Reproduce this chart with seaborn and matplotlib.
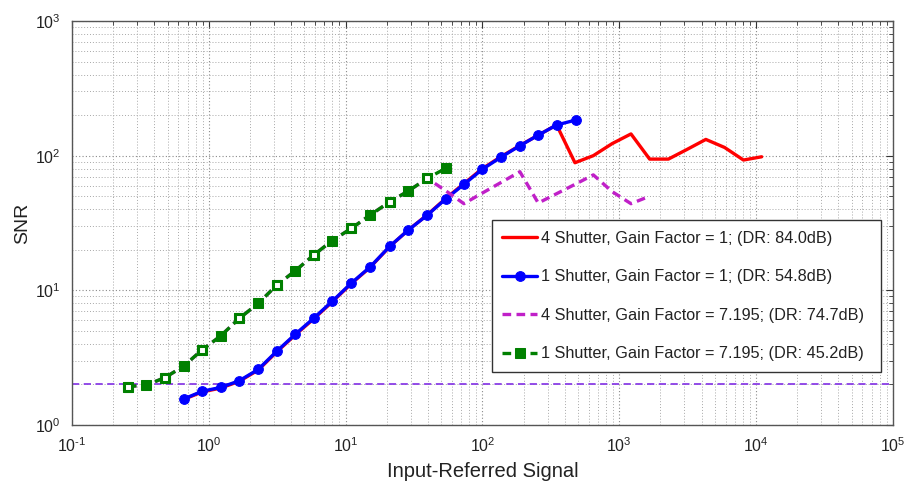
import numpy as np
import matplotlib
matplotlib.use("Agg")
import matplotlib.pyplot as plt
import seaborn as sns
from matplotlib.ticker import LogLocator, NullFormatter, FixedLocator, FuncFormatter

# ---------------- data ----------------
blue_x = [0.656, 0.893, 1.22, 1.67, 2.30, 3.13, 4.30, 5.86, 7.98, 11.0, 15.1,
          21.1, 28.7, 39.6, 53.8, 73.3, 99.7, 136, 188, 256, 349, 483]
blue_snr = [1.56, 1.78, 1.90, 2.13, 2.59, 3.52, 4.73, 6.22, 8.28, 11.3, 14.9,
            21.3, 28.0, 36.2, 47.6, 61.2, 79.1, 97.1, 118.5, 142, 169, 184]

red_x = [0.656, 0.893, 1.22, 1.67, 2.30, 3.13, 4.30, 5.86, 7.98, 11.0, 15.1,
         21.1, 28.7, 39.6, 53.8, 73.3, 99.7, 136, 188, 256, 349,
         475, 647, 890, 1220, 1670, 2290, 3120, 4300, 5900, 8100, 11000]
red_snr = [1.55, 1.76, 1.88, 2.11, 2.56, 3.48, 4.68, 6.15, 8.2, 11.2, 14.8,
           21.2, 28.0, 36.4, 48.0, 62.0, 80.0, 98.0, 119, 142, 169,
           88.6, 100, 123, 145, 94.3, 94.3, 111, 132, 115, 92.8, 98.1]

green_x = [0.256, 0.350, 0.479, 0.656, 0.893, 1.22, 1.67, 2.30, 3.13, 4.30,
           5.86, 7.98, 11.0, 15.1, 21.1, 28.7, 39.6, 53.8]
green_snr = [1.93, 1.98, 2.25, 2.74, 3.61, 4.58, 6.19, 8.0, 10.9, 14.0,
             18.3, 23.4, 28.8, 36.2, 45.5, 54.6, 67.8, 80.5]

mag_x = [0.256, 0.350, 0.479, 0.656, 0.893, 1.22, 1.67, 2.30, 3.13, 4.30,
         5.86, 7.98, 11.0, 15.1, 21.1, 28.7, 39.6,
         53.8, 73.3, 99.7, 136, 188, 256, 349, 475, 647, 890, 1220, 1670]
mag_snr = [1.93, 1.98, 2.25, 2.74, 3.61, 4.58, 6.19, 8.0, 10.9, 14.0,
           18.3, 23.4, 28.8, 36.2, 45.5, 54.6, 67.8,
           55, 44, 52.7, 63, 76, 44.5, 52.2, 61.2, 72, 54, 44, 50]

snr_threshold = 2.0

x_ticks = [1e-1, 1e0, 1e1, 1e2, 1e3, 1e4, 1e5]
y_ticks = [1e0, 1e1, 1e2, 1e3]

series_labels = [
    "4 Shutter, Gain Factor = 1; (DR: 84.0dB)",
    "1 Shutter, Gain Factor = 1; (DR: 54.8dB)",
    "4 Shutter, Gain Factor = 7.195; (DR: 74.7dB)",
    "1 Shutter, Gain Factor = 7.195; (DR: 45.2dB)",
]
x_label = "Input-Referred Signal"
y_label = "SNR"

# ---------------- style ----------------
sns.set_theme(style="white")
plt.rcParams["font.family"] = ["Liberation Sans", "DejaVu Sans"]
plt.rcParams["mathtext.fontset"] = "custom"
plt.rcParams["mathtext.rm"] = "Liberation Sans"
plt.rcParams["mathtext.it"] = "Liberation Sans:italic"

RED = "#ff0000"
BLUE = "#0000ff"
MAG = "#c020c8"
GREEN = "#008000"
VIOLET = "#8a3ee6"

fig = plt.figure(figsize=(9.11, 4.87), dpi=100)
ax = fig.add_axes([0.079, 0.1273, 0.901, 0.8296])
ax.set_xscale("log")
ax.set_yscale("log")

ax.axhline(snr_threshold, color=VIOLET, lw=1.3, ls=(0, (4, 2.5)), zorder=2)

sns.lineplot(x=red_x, y=red_snr, ax=ax, color=RED, lw=2.4, sort=False,
             estimator=None, label=series_labels[0], zorder=3)
sns.lineplot(x=blue_x, y=blue_snr, ax=ax, color=BLUE, lw=2.4, sort=False,
             estimator=None, marker="o", markersize=7, markeredgecolor=BLUE,
             markerfacecolor=BLUE, label=series_labels[1], zorder=4)
sns.lineplot(x=mag_x, y=mag_snr, ax=ax, color=MAG, lw=2.4, sort=False,
             estimator=None, linestyle=(0, (2.6, 1.6)),
             label=series_labels[2], zorder=5)
sns.lineplot(x=green_x, y=green_snr, ax=ax, color=GREEN, lw=2.4, sort=False,
             estimator=None, linestyle=(0, (2.6, 1.6)), marker="s",
             markersize=6.5, markeredgecolor=GREEN, markerfacecolor=GREEN,
             label=series_labels[3], zorder=6)
sns.scatterplot(x=green_x[::2], y=green_snr[::2], ax=ax, marker="s", s=36,
                facecolor="white", edgecolor=GREEN, linewidth=2.2, zorder=7,
                legend=False)

ax.set_xlim(x_ticks[0], x_ticks[-1])
ax.set_ylim(y_ticks[0], y_ticks[-1])


def pow_fmt(v, pos):
    e = int(round(np.log10(v)))
    if e < 0:
        return "10$^{\u2010%d}$" % (-e)
    return "10$^{%d}$" % e


ax.xaxis.set_major_locator(FixedLocator(x_ticks))
ax.yaxis.set_major_locator(FixedLocator(y_ticks))
ax.xaxis.set_minor_locator(LogLocator(base=10, subs=np.arange(2, 10), numticks=50))
ax.yaxis.set_minor_locator(LogLocator(base=10, subs=np.arange(2, 10), numticks=50))
ax.xaxis.set_major_formatter(FuncFormatter(pow_fmt))
ax.yaxis.set_major_formatter(FuncFormatter(pow_fmt))
ax.xaxis.set_minor_formatter(NullFormatter())
ax.yaxis.set_minor_formatter(NullFormatter())

ax.grid(True, which="major", linestyle=(0, (1, 2)), color="#8a8a8a", lw=0.8)
ax.grid(True, which="minor", linestyle=(0, (1, 2)), color="#a8a8a8", lw=0.7)
ax.set_axisbelow(True)

ax.tick_params(which="both", direction="in", top=True, right=True,
               colors="#333333", labelcolor="#222222")
ax.tick_params(which="major", length=5, width=0.8, labelsize=11.5, pad=8)
ax.tick_params(which="minor", length=3, width=0.6)
for s in ax.spines.values():
    s.set_color("#555555")
    s.set_linewidth(1.0)

ax.set_xlabel(x_label, fontsize=14.5, color="#222222", labelpad=5)
ax.set_ylabel(y_label, fontsize=14, color="#222222", labelpad=3)

leg = ax.legend(loc="upper left", bbox_to_anchor=(0.5116, 0.0, 0.474, 0.507),
                mode="expand", fontsize=11.7, frameon=True, fancybox=False,
                edgecolor="#333333", framealpha=1, labelspacing=1.45,
                handlelength=2.15, handletextpad=0.25, borderpad=0.65,
                borderaxespad=0)
leg.get_frame().set_linewidth(1.0)
for t in leg.get_texts():
    t.set_color("#222222")

fig.savefig("out.png", dpi=100, facecolor="white")
